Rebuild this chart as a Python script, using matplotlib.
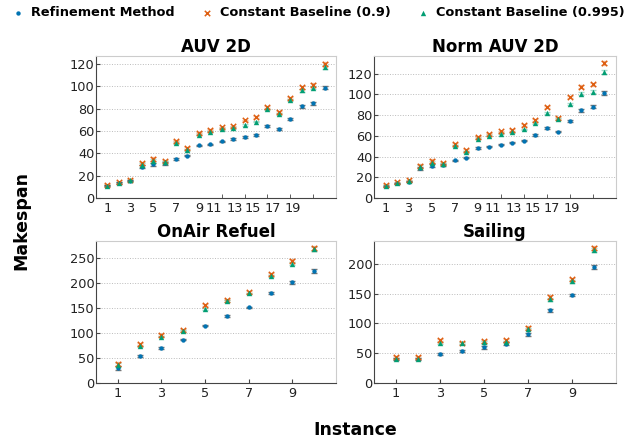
import numpy as np
import matplotlib
matplotlib.use("Agg")
import matplotlib.pyplot as plt
from matplotlib.ticker import FixedLocator, NullFormatter

# colours of the three methods
c_ref = "#0173b2"
c_09 = "#de5f12"
c_995 = "#029e73"

series_names = ["Refinement Method", "Constant Baseline (0.9)", "Constant Baseline (0.995)"]

# AUV 2D (20 instances)
auv_ref = [11, 13.4, 15.4, 27.9, 30, 30.9, 35, 38, 47.2, 48.1, 50.7, 52.8, 54.6, 56.4, 64.4, 61.7, 70.9, 81.9, 84.9, 98.8]
auv_09 = [11.9, 14.2, 16.3, 30.9, 35, 33, 51.3, 45.1, 58.5, 61.1, 63.2, 64.1, 69.4, 72.4, 81.3, 76.9, 89.6, 99.1, 101.5, 120.2]
auv_995 = [11, 13.6, 15.7, 29.4, 33, 31.8, 49.3, 43, 56.7, 59.3, 61.7, 62.6, 65.3, 68.2, 79.2, 74.8, 87.5, 96.4, 98.8, 117.2]
auv_err = [0.5, 0.5, 0.6, 1.5, 1.5, 1.0, 0.6, 0.8, 0.6, 0.6, 0.6, 0.6, 0.6, 0.6, 0.8, 0.8, 1.0, 1.2, 1.4, 1.6]

# Norm AUV 2D (20 instances)
norm_ref = [11.5, 14.1, 15.7, 28.5, 31, 31.7, 36.2, 39, 48.3, 49.6, 51.5, 53.4, 55.4, 60.8, 67.5, 64, 74.2, 84.5, 88, 101.4]
norm_09 = [12.8, 15, 17, 30.7, 35.5, 33.9, 52.2, 46.4, 59.2, 62.1, 64.3, 65.6, 70.4, 75.2, 87.7, 76.8, 97.3, 107.5, 109.8, 130.2]
norm_995 = [11.8, 14.4, 16, 30, 33.9, 32.6, 50.2, 44.2, 57.3, 60.2, 62.1, 63.4, 66.2, 72.3, 82.2, 76.2, 90.9, 100.8, 102.4, 121.6]
norm_err = [0.5, 0.5, 0.6, 1.5, 1.5, 1.0, 0.6, 0.8, 0.6, 0.6, 0.6, 0.6, 0.6, 0.6, 0.8, 0.8, 1.0, 1.2, 1.4, 1.6]

# OnAir Refuel (10 instances)
air_ref = [30, 54, 70.7, 87.3, 115.3, 134.7, 152, 180.7, 202.7, 224.7]
air_09 = [38.7, 78, 96, 106, 156, 167.3, 182.7, 218, 245.3, 270]
air_995 = [35.3, 73.3, 93.3, 104.7, 148.7, 164.7, 180, 214, 239.3, 268]
air_err = [4, 1.5, 1.5, 1.5, 1.5, 1.5, 1.5, 2, 3, 4]

# Sailing (10 instances)
sail_ref = [39.7, 40, 48.6, 53, 59.8, 65.9, 81.6, 121.8, 147.5, 194.4]
sail_09 = [43, 43, 72, 67.6, 69.8, 71.5, 92.7, 143.6, 173.7, 226.8]
sail_995 = [40.2, 40.2, 67.6, 66.5, 68.2, 68.7, 90.5, 140.2, 170.4, 222.9]
sail_err = [1.5, 1.5, 1.5, 1.5, 2, 2, 2, 3, 2, 3]

# tick labels of the 20-instance panels sit a bit left of their tick marks
long_tick_marks = [1, 3, 5, 7, 9, 11, 13, 15, 17, 19]
long_tick_pos = [1, 3, 5, 7, 9, 10.3, 12.1, 13.75, 15.45, 17.2]
short_ticks = [1, 3, 5, 7, 9]

panels = [
    ("AUV 2D", auv_ref, auv_09, auv_995, auv_err, 127, [0, 20, 40, 60, 80, 100, 120]),
    ("Norm AUV 2D", norm_ref, norm_09, norm_995, norm_err, 137, [0, 20, 40, 60, 80, 100, 120]),
    ("OnAir Refuel", air_ref, air_09, air_995, air_err, 285, [0, 50, 100, 150, 200, 250]),
    ("Sailing", sail_ref, sail_09, sail_995, sail_err, 238, [0, 50, 100, 150, 200]),
]

# axes boxes in pixels: left, bottom(from top), width, height
W, H = 635, 441
boxes = [(96, 198, 240, 142), (374, 198, 242, 142), (96, 383, 240, 142), (374, 383, 242, 142)]

fig = plt.figure(figsize=(W / 100, H / 100), dpi=100)
plt.rcParams["font.family"] = "DejaVu Sans"

handles = []
for (title, ref, b09, b995, err, ymax, yt), (l, b, w, h) in zip(panels, boxes):
    ax = fig.add_axes([l / W, 1 - b / H, w / W, h / H])
    x = np.arange(1, len(ref) + 1)
    e = np.array(err)
    ax.errorbar(x, b09, yerr=e * 1.1, fmt="none", ecolor=c_09, alpha=0.35, capsize=2, elinewidth=1, zorder=2)
    ax.errorbar(x, b995, yerr=e, fmt="none", ecolor=c_995, alpha=0.35, capsize=2, elinewidth=1, zorder=2)
    ax.errorbar(x, ref, yerr=e, fmt="none", ecolor="#555555", alpha=0.8, capsize=2, elinewidth=1, zorder=2)
    h1 = ax.scatter(x, ref, s=10, marker="o", color=c_ref, linewidths=0, zorder=3)
    h2 = ax.scatter(x, b09, s=15, marker="x", color=c_09, linewidths=1.1, zorder=3)
    h3 = ax.scatter(x, b995, s=15, marker="^", color=c_995, linewidths=0, zorder=4)
    handles = [h1, h2, h3]

    n = len(ref)
    ax.set_xlim(0, n + 1)
    ax.set_ylim(0, ymax)
    ax.set_yticks(yt)
    if n == 20:
        ax.set_xticks(long_tick_pos)
        ax.set_xticklabels([str(t) for t in long_tick_marks])
        ax.xaxis.set_minor_locator(FixedLocator(long_tick_marks))
        ax.xaxis.set_minor_formatter(NullFormatter())
        ax.tick_params(axis="x", which="major", length=0, pad=3)
        ax.tick_params(axis="x", which="minor", direction="in", length=3, color="#444444")
    else:
        ax.set_xticks(short_ticks)
        ax.tick_params(axis="x", direction="in", length=3, color="#444444", pad=3)
    ax.tick_params(axis="y", direction="in", length=3, color="#444444", pad=1)
    ax.tick_params(labelsize=9.3, labelcolor="#222222")
    ax.grid(axis="y", linestyle=":", color="#bbbbbb", linewidth=0.7)
    ax.set_axisbelow(True)
    ax.spines["left"].set_color("#444444")
    ax.spines["bottom"].set_color("#444444")
    ax.spines["top"].set_color("#cccccc")
    ax.spines["right"].set_color("#cccccc")
    ax.set_title(title, fontsize=12, fontweight="bold", pad=1)

fig.legend(handles, series_names, loc="center", bbox_to_anchor=(0.5, 0.971), ncol=3,
           frameon=False, prop={"weight": "bold", "size": 9.3}, handletextpad=0.4,
           columnspacing=1.9, markerscale=1.0, handlelength=1.2)

fig.text(0.033, 0.5, "Makespan", rotation=90, ha="center", va="center", fontsize=12.5, fontweight="bold")
fig.text(0.56, 0.024, "Instance", ha="center", va="center", fontsize=12.5, fontweight="bold")

fig.savefig("out.png", dpi=100)
